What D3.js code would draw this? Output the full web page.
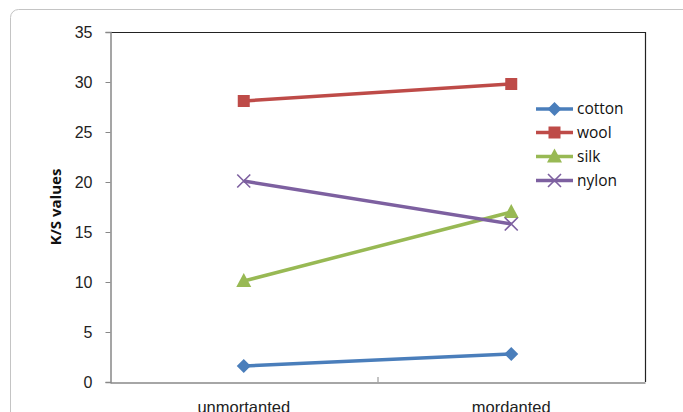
<!DOCTYPE html>
<html><head><meta charset="utf-8">
<script src="https://cdn.jsdelivr.net/npm/d3@7"></script>
<style>body{margin:0;background:#fff;} svg{display:block;font-family:"Open Sans", Lato, sans-serif;}</style>
</head><body>
<svg id="chart" width="683" height="412"></svg>
<script>
const categories = ["unmortanted", "mordanted"];
const seriesNames = ["cotton", "wool", "silk", "nylon"];
const cotton = [1.6, 2.8];
const wool = [28.1, 29.8];
const silk = [10.1, 17.0];
const nylon = [20.1, 15.8];
const yTicks = [0, 5, 10, 15, 20, 25, 30, 35];
const colors = ["#4A7EBB", "#BE4B48", "#98B954", "#7D60A0"];
const symbols = ["diamond", "square", "triangle", "cross"];

const series = [cotton, wool, silk, nylon].map((v, i) => ({name: seriesNames[i], values: v, color: colors[i], sym: symbols[i]}));

const svg = d3.select("#chart");
const m = {left: 110, top: 32, right: 645, bottom: 382};

// outer frame
svg.append("rect").attr("x", 10.5).attr("y", 9.5).attr("width", 700).attr("height", 450)
  .attr("rx", 8).attr("fill", "#fff").attr("stroke", "#c4c4c4").attr("stroke-width", 1);

const x = d3.scaleBand().domain(categories).range([m.left, m.right]);
const y = d3.scaleLinear().domain([0, 35]).range([m.bottom, m.top]);

// plot frame top/right
svg.append("path").attr("d", `M${m.left},${m.top+0.5}H${m.right+0.5}V${m.bottom}`)
  .attr("fill", "none").attr("stroke", "#222").attr("stroke-width", 1.2);

// y axis
const yAxis = svg.append("g").attr("transform", `translate(${m.left+0.5},0)`)
  .call(d3.axisLeft(y).tickValues(yTicks).tickSize(5).tickPadding(13));
yAxis.select(".domain").attr("stroke", "#888").attr("stroke-width", 1.5);
yAxis.selectAll(".tick line").attr("stroke", "#888");
yAxis.selectAll("text").attr("font-size", 16).attr("fill", "#222");

// x axis
const xAxis = svg.append("g").attr("transform", `translate(0,${m.bottom+0.5})`)
  .call(d3.axisBottom(x).tickSize(0).tickPadding(19));
xAxis.select(".domain").attr("stroke", "#888").attr("stroke-width", 1.5);
xAxis.selectAll("text").attr("font-size", 16.5).attr("fill", "#222");
// mid tick marks between categories
const bound = [m.left + x.step()];
svg.selectAll(".mtick").data(bound).enter().append("line")
  .attr("x1", d => d+0.5).attr("x2", d => d+0.5).attr("y1", m.bottom-5).attr("y2", m.bottom)
  .attr("stroke", "#888");

// y label
svg.append("text").attr("transform", `translate(61,${(m.top+m.bottom)/2}) rotate(-90)`)
  .attr("text-anchor", "middle").attr("font-size", 15).attr("font-weight", "bold").attr("fill", "#111")
  .text("K/S values");

const cx = c => x(c) + x.bandwidth()/2;

function drawMarker(g, sym, color, px, py) {
  if (sym === "diamond") {
    g.append("path").attr("d", `M${px},${py-7}L${px+7},${py}L${px},${py+7}L${px-7},${py}Z`).attr("fill", color);
  } else if (sym === "square") {
    g.append("rect").attr("x", px-6).attr("y", py-6).attr("width", 12).attr("height", 12).attr("fill", color);
  } else if (sym === "triangle") {
    g.append("path").attr("d", `M${px},${py-8}L${px+7.5},${py+6}L${px-7.5},${py+6}Z`).attr("fill", color);
  } else {
    g.append("path").attr("d", `M${px-6.5},${py-6.5}L${px+6.5},${py+6.5}M${px+6.5},${py-6.5}L${px-6.5},${py+6.5}`)
      .attr("stroke", color).attr("stroke-width", 1.6);
  }
}

const line = d3.line().x((d, i) => cx(categories[i])).y(d => y(d));
series.forEach(s => {
  const g = svg.append("g");
  g.append("path").attr("d", line(s.values)).attr("fill", "none").attr("stroke", s.color).attr("stroke-width", 3.5);
  s.values.forEach((v, i) => drawMarker(g, s.sym, s.color, cx(categories[i]), y(v)));
});

// legend
const legY = [109, 132.5, 156.5, 180.5];
series.forEach((s, i) => {
  const g = svg.append("g");
  g.append("line").attr("x1", 536).attr("x2", 573).attr("y1", legY[i]).attr("y2", legY[i])
    .attr("stroke", s.color).attr("stroke-width", 3.5);
  drawMarker(g, s.sym, s.color, 554.5, legY[i]);
  g.append("text").attr("x", 577).attr("y", legY[i]).attr("dy", "0.35em").attr("font-size", 15.5).attr("fill", "#111").text(s.name);
});
</script>
</body></html>
